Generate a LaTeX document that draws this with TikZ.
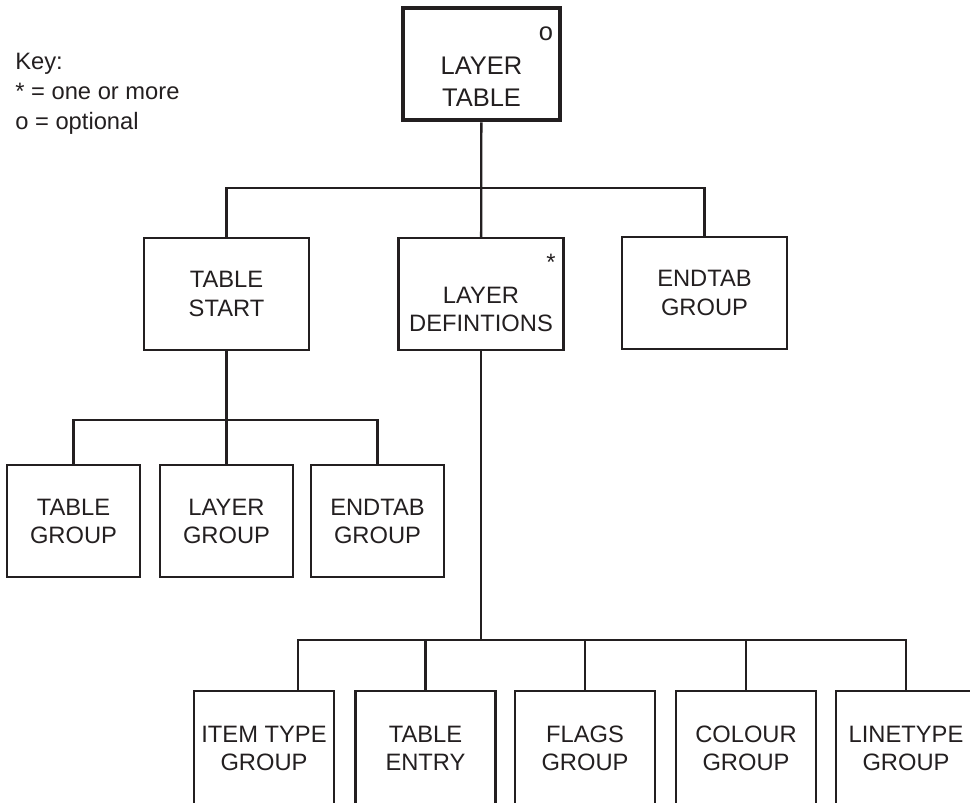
\documentclass[tikz,border=0pt]{standalone}
\usepackage{fontspec}
\setmainfont{Liberation Sans}
\definecolor{ink}{RGB}{35,31,32}
\begin{document}
\begin{tikzpicture}[x=0.02cm,y=-0.02cm,color=ink]

    \tikzset{boxstyle/.style={draw,line width=1.3pt,inner sep=0pt,align=center,
        minimum width=3.3cm,minimum height=2.24cm,font=\fontsize{13.5}{16}\selectfont},
        topbox/.style={boxstyle,line width=2.8pt,minimum width=3.14cm},
        lowbox/.style={boxstyle,minimum width=2.66cm},
        leafbox/.style={boxstyle,minimum width=2.8cm,minimum height=2.3cm},
        boxtext/.style={inner sep=0pt,align=center,font=\fontsize{13.5}{16}\selectfont}}
    \clip (0,0) rectangle (970,802);

    \node[anchor=north west,align=left,inner sep=0pt,font=\fontsize{13.5}{17}\selectfont] (key) at (15,53)
        {Key:\\* = one or more\\o = optional};

    \node[topbox] (lt) at (481.5,64) {};
    \node[boxtext,font=\fontsize{14.5}{18}\selectfont] (ltt) at ([yshift=-10pt]lt.center) {LAYER\\TABLE};
    \node[font=\fontsize{14.5}{17}\selectfont] (lto) at (546,34) {o};

    \node[boxstyle] (ts) at (226.5,294) {TABLE\\START};
    \node[boxstyle] (ld) at (481,294) {};
    \node[boxtext] (ldt) at ([yshift=-9pt]ld.center) {LAYER\\DEFINTIONS};
    \node[font=\fontsize{13.5}{16}\selectfont] (lds) at (551,262) {*};
    \node[boxstyle] (et) at (704.5,293) {ENDTAB\\GROUP};

    \node[lowbox] (tg) at (73.5,521) {TABLE\\GROUP};
    \node[lowbox] (lg) at (226.5,521) {LAYER\\GROUP};
    \node[lowbox] (eg) at (377.5,521) {ENDTAB\\GROUP};

    \node[leafbox] (it) at (264,748.5) {ITEM TYPE\\GROUP};
    \node[leafbox] (te) at (425.5,748.5) {TABLE\\ENTRY};
    \node[leafbox] (fg) at (585,748.5) {FLAGS\\GROUP};
    \node[leafbox] (cg) at (746,748.5) {COLOUR\\GROUP};
    \node[leafbox] (ltg) at (906,748.5) {LINETYPE\\GROUP};

    \coordinate (j1) at (481.5,188);
    \coordinate (j2) at (226.5,420);
    \coordinate (j3) at (481,640);
    \coordinate (itin) at (298,691);

    \begin{scope}[every path/.style={line width=1.3pt}]
        \draw (lt) -- (ld);
        \draw (ts.north) |- (j1) -| (et.north);

        \draw (ts) -- (lg);
        \draw (tg.north) |- (j2) -| (eg.north);

        \draw (ld) -- (j3);
        \draw (itin) |- (j3) -| (ltg.north);
        \draw (te.north) -- (te.north |- j3);
        \draw (fg.north) -- (fg.north |- j3);
        \draw (cg.north) -- (cg.north |- j3);
    \end{scope}
\end{tikzpicture}
\end{document}
